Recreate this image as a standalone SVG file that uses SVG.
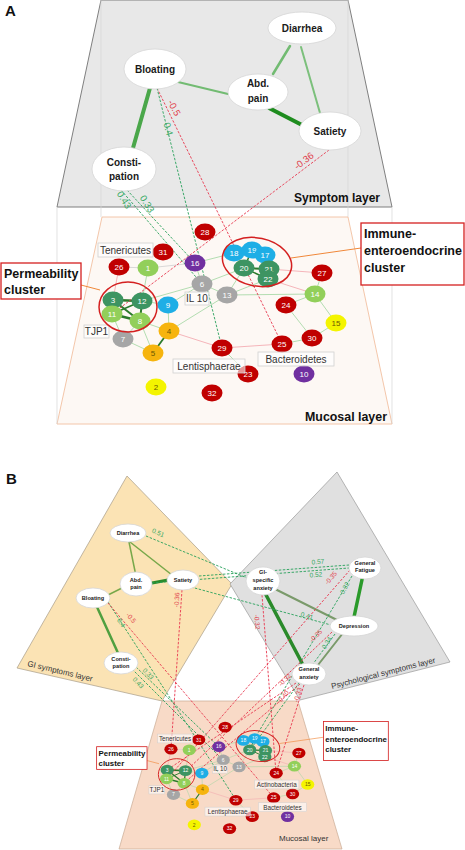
<svg xmlns="http://www.w3.org/2000/svg" width="465" height="850" viewBox="0 0 465 850">
<style>
text{font-family:"Liberation Sans",Arial,sans-serif}
.r{fill:#c00000}.dg{fill:#3d9462}.lg{fill:#92cf5a}.bl{fill:#1eaee6}.gy{fill:#a6a6a6}.pu{fill:#7030a0}.or{fill:#f6b40e}.ye{fill:#f4f400}
.nt{font-size:8px;fill:#fff;text-anchor:middle}
.nd{fill:#6b5800}
.eg{stroke:#9fd69f;stroke-width:0.8;fill:none}
.ep{stroke:#f2a3ab;stroke-width:0.8;fill:none}
.ey{stroke:#cfcfcf;stroke-width:0.8;fill:none}
.ek{stroke:#2b7a2b;fill:none}
.dr{stroke:#e8384f;stroke-width:0.9;stroke-dasharray:2.5 1.5;fill:none}
.dgr{stroke:#27a05a;stroke-width:0.9;stroke-dasharray:2.5 1.5;fill:none}
.lr{fill:#e0404a;text-anchor:middle}
.lgr{fill:#35a862;text-anchor:middle}
.la{font-size:9.5px}
.lbb{font-size:6.5px}
.sn{fill:#fff;stroke:#d6d6d6;stroke-width:0.8}
.st{font-weight:bold;fill:#1a1a1a;text-anchor:middle}
.sa{font-size:10px}
.sb{font-size:5.6px}
.lb{fill:#fff;fill-opacity:0.6;stroke:#d0d0d0;stroke-width:0.8}
.lt{font-size:10px;fill:#333;text-anchor:middle}
.cl{fill:none;stroke:#d42020;stroke-width:1.5}
.bx{fill:#fff;stroke:#d42020;stroke-width:1.3}
.bt{font-size:12.5px;font-weight:bold;fill:#111}
.ol{stroke:#f0883a;stroke-width:1}
.fl{stroke:#d6d6d6;stroke-width:0.7}
.se{fill:none;stroke-linecap:round}
</style>

<!-- ============ PANEL A ============ -->
<text x="5" y="16" font-size="15" font-weight="bold" fill="#111">A</text>
<g id="A-layers">
  <polygon id="symptom-layer" points="101,0 348,0 392,207 57,207" fill="#e8e8e8" stroke="#7f7f7f" stroke-width="1"/>
  <line class="fl" x1="101" y1="0" x2="101" y2="217"/>
  <line class="fl" x1="348" y1="0" x2="348" y2="217"/>
  <polygon id="mucosal-layer-A" points="102,217 348,217 392,424 57,424" fill="#fdf8f4" stroke="#f2bfa0" stroke-width="0.9"/>
  <line class="fl" x1="57" y1="207" x2="57" y2="424"/>
  <line class="fl" x1="392" y1="207" x2="392" y2="424"/>
  <text x="294" y="202" font-size="12" font-weight="bold" fill="#111">Symptom layer</text>
  <text x="305" y="421" font-size="12.4" font-weight="bold" fill="#111">Mucosal layer</text>
</g>

<g id="connectors-A">
  <!-- symptom edges -->
  <line class="se" x1="150" y1="88" x2="133" y2="148" stroke="#4aa74a" stroke-width="4"/>
  <line class="se" x1="178" y1="82" x2="228" y2="94" stroke="#72bb72" stroke-width="2"/>
  <line class="se" x1="290" y1="46" x2="273" y2="74" stroke="#72bb72" stroke-width="2.5"/>
  <line class="se" x1="301" y1="47" x2="320" y2="113" stroke="#7cc07c" stroke-width="2"/>
  <line class="se" x1="269" y1="108" x2="302" y2="125" stroke="#1e8c1e" stroke-width="4"/>
  <!-- mucosal edges -->
  <g id="muc-edges-A">
    <path class="eg" d="M148 268L142 301M195 263L234 253M195 263L202 284M202 284L227 295M202 284L244 268M202 284L142 301M202 284L168 305M227 295L244 268M227 295L268 279M227 295L315 294M227 295L169 331M168 305L142 301M168 305L169 331M169 331L140 321M123 339L112 314M123 339L140 321M153 353L140 321M153 353L123 339M222 348L248 374M315 294L322 273M315 294L286 305M315 294L336 323M336 323L312 338M286 305L312 338M282 344L312 338M234 253L252 250M252 250L265 255M265 255L269 269M234 253L244 268"/>
    <path class="ep" d="M169 331L222 348M222 348L282 344M269 269L322 273M268 279L315 294M119 267L113 300"/>
    <path class="ey" d="M148 268L195 263M119 267L148 268"/>
    <line class="ek" x1="113" y1="300" x2="142" y2="301" stroke-width="2.5"/>
    <line class="ek" x1="113" y1="300" x2="140" y2="321" stroke-width="2"/>
    <line class="ek" x1="112" y1="314" x2="140" y2="321" stroke-width="2.5"/>
    <line class="ek" x1="142" y1="301" x2="140" y2="321" stroke-width="2"/>
    <line class="ek" x1="112" y1="314" x2="142" y2="301" stroke-width="1.5"/>
    <line class="ek" x1="113" y1="300" x2="112" y2="314" stroke-width="1.2"/>
    <line class="ek" x1="244" y1="268" x2="252" y2="250" stroke-width="1.5"/>
    <line class="ek" x1="244" y1="268" x2="269" y2="269" stroke-width="2"/>
    <line class="ek" x1="244" y1="268" x2="268" y2="279" stroke-width="1.5"/>
    <line class="ek" x1="269" y1="269" x2="268" y2="279" stroke-width="1"/>
    <line class="ek" x1="169" y1="331" x2="153" y2="353" stroke-width="1.8"/>
  </g>
  <!-- cross-layer dashed -->
  <line class="dr" x1="157" y1="88" x2="282" y2="344"/>
  <line class="dgr" x1="157" y1="88" x2="222" y2="348"/>
  <line class="dr" x1="329" y1="150" x2="112" y2="314"/>
  <line class="dgr" x1="121" y1="190" x2="202" y2="284"/>
  <line class="dgr" x1="127" y1="190" x2="195" y2="263"/>
  <text class="lr la" transform="translate(174 108) rotate(63)" y="3">-0.5</text>
  <text class="lgr la" transform="translate(168 129) rotate(75)" y="3">0.4</text>
  <text class="lr la" transform="translate(304 161) rotate(-37)" y="3">-0.36</text>
  <text class="lgr la" transform="translate(124 200) rotate(58)" y="3">0.43</text>
  <text class="lgr la" transform="translate(147 204) rotate(58)" y="3">0.33</text>
  <line class="ol" x1="81" y1="285" x2="100" y2="290"/>
  <line class="ol" x1="291" y1="258" x2="361" y2="248"/>
</g>

<g id="nodes-A">
  <g id="a-diarrhea"><ellipse class="sn" cx="302" cy="28" rx="34" ry="16"/><text class="st sa" x="302" y="32">Diarrhea</text></g>
  <g id="a-bloating"><ellipse class="sn" cx="155" cy="69" rx="31" ry="20"/><text class="st sa" x="155" y="73">Bloating</text></g>
  <g id="a-abdpain"><ellipse class="sn" cx="258" cy="92" rx="30" ry="18"/><text class="st sa" x="258" y="87">Abd.</text><text class="st sa" x="258" y="102">pain</text></g>
  <g id="a-satiety"><ellipse class="sn" cx="330" cy="131" rx="31" ry="19"/><text class="st sa" x="330" y="135">Satiety</text></g>
  <g id="a-constipation"><ellipse class="sn" cx="124" cy="169" rx="32" ry="22"/><text class="st sa" x="124" y="166">Consti-</text><text class="st sa" x="124" y="180">pation</text></g>

  <g id="muc-A">
    <g id="a28"><ellipse cx="205" cy="232" rx="10.5" ry="8.5" class="r"/><text x="205" y="234.8" class="nt">28</text></g>
    <g id="a31"><ellipse cx="163" cy="252" rx="10.5" ry="8.5" class="r"/><text x="163" y="254.8" class="nt">31</text></g>
    <g id="a26"><ellipse cx="119" cy="267" rx="10.5" ry="8.5" class="r"/><text x="119" y="269.8" class="nt">26</text></g>
    <g id="a1"><ellipse cx="148" cy="268" rx="10.5" ry="8.5" class="lg"/><text x="148" y="270.8" class="nt">1</text></g>
    <g id="a16"><ellipse cx="195" cy="263" rx="10.5" ry="8.5" class="pu"/><text x="195" y="265.8" class="nt">16</text></g>
    <g id="a18"><ellipse cx="234" cy="253" rx="10.5" ry="8.5" class="bl"/><text x="234" y="255.8" class="nt">18</text></g>
    <g id="a19"><ellipse cx="252" cy="250" rx="10.5" ry="8.5" class="bl"/><text x="252" y="252.8" class="nt">19</text></g>
    <g id="a17"><ellipse cx="265" cy="255" rx="10.5" ry="8.5" class="bl"/><text x="265" y="257.8" class="nt">17</text></g>
    <g id="a20"><ellipse cx="244" cy="268" rx="10.5" ry="8.5" class="dg"/><text x="244" y="270.8" class="nt">20</text></g>
    <g id="a21"><ellipse cx="269" cy="269" rx="10.5" ry="8.5" class="dg"/><text x="269" y="271.8" class="nt">21</text></g>
    <g id="a22"><ellipse cx="268" cy="279" rx="10.5" ry="8.5" class="dg"/><text x="268" y="281.8" class="nt">22</text></g>
    <g id="a6"><ellipse cx="202" cy="284" rx="10.5" ry="8.5" class="gy"/><text x="202" y="286.8" class="nt">6</text></g>
    <g id="a13"><ellipse cx="227" cy="295" rx="10.5" ry="8.5" class="gy"/><text x="227" y="297.8" class="nt">13</text></g>
    <g id="a27"><ellipse cx="322" cy="273" rx="10.5" ry="8.5" class="r"/><text x="322" y="275.8" class="nt">27</text></g>
    <g id="a14"><ellipse cx="315" cy="294" rx="10.5" ry="8.5" class="lg"/><text x="315" y="296.8" class="nt">14</text></g>
    <g id="a3"><ellipse cx="113" cy="300" rx="10.5" ry="8.5" class="dg"/><text x="113" y="302.8" class="nt">3</text></g>
    <g id="a12"><ellipse cx="142" cy="301" rx="10.5" ry="8.5" class="dg"/><text x="142" y="303.8" class="nt">12</text></g>
    <g id="a9"><ellipse cx="168" cy="305" rx="10.5" ry="8.5" class="bl"/><text x="168" y="307.8" class="nt">9</text></g>
    <g id="a24"><ellipse cx="286" cy="305" rx="10.5" ry="8.5" class="r"/><text x="286" y="307.8" class="nt">24</text></g>
    <g id="a11"><ellipse cx="112" cy="314" rx="10.5" ry="8.5" class="lg"/><text x="112" y="316.8" class="nt">11</text></g>
    <g id="a8"><ellipse cx="140" cy="321" rx="10.5" ry="8.5" class="lg"/><text x="140" y="323.8" class="nt">8</text></g>
    <g id="a15"><ellipse cx="336" cy="323" rx="10.5" ry="8.5" class="ye"/><text x="336" y="325.8" class="nt nd">15</text></g>
    <g id="a4"><ellipse cx="169" cy="331" rx="10.5" ry="8.5" class="or"/><text x="169" y="333.8" class="nt nd">4</text></g>
    <g id="a7"><ellipse cx="123" cy="339" rx="10.5" ry="8.5" class="gy"/><text x="123" y="341.8" class="nt">7</text></g>
    <g id="a30"><ellipse cx="312" cy="338" rx="10.5" ry="8.5" class="r"/><text x="312" y="340.8" class="nt">30</text></g>
    <g id="a25"><ellipse cx="282" cy="344" rx="10.5" ry="8.5" class="r"/><text x="282" y="346.8" class="nt">25</text></g>
    <g id="a29"><ellipse cx="222" cy="348" rx="10.5" ry="8.5" class="r"/><text x="222" y="350.8" class="nt">29</text></g>
    <g id="a5"><ellipse cx="153" cy="353" rx="10.5" ry="8.5" class="or"/><text x="153" y="355.8" class="nt nd">5</text></g>
    <g id="a23"><ellipse cx="248" cy="374" rx="10.5" ry="8.5" class="r"/><text x="248" y="376.8" class="nt">23</text></g>
    <g id="a10"><ellipse cx="304" cy="374" rx="10.5" ry="8.5" class="pu"/><text x="304" y="376.8" class="nt">10</text></g>
    <g id="a2"><ellipse cx="156" cy="387" rx="10.5" ry="8.5" class="ye"/><text x="156" y="389.8" class="nt nd">2</text></g>
    <g id="a32"><ellipse cx="212" cy="393" rx="10.5" ry="8.5" class="r"/><text x="212" y="395.8" class="nt">32</text></g>
    <g id="a-labels">
      <rect class="lb" x="98" y="243" width="55" height="14"/><text class="lt" x="125.5" y="254">Tenericutes</text>
      <rect class="lb" x="185" y="292" width="24" height="13"/><text class="lt" x="197" y="302">IL 10</text>
      <rect class="lb" x="84" y="325" width="25" height="13"/><text class="lt" x="96.5" y="335">TJP1</text>
      <rect class="lb" x="173" y="359" width="72" height="14"/><text class="lt" x="209" y="370">Lentisphaerae</text>
      <rect class="lb" x="258" y="352" width="76" height="14"/><text class="lt" x="296" y="363">Bacteroidetes</text>
    </g>
    <ellipse class="cl" cx="128" cy="307" rx="29" ry="25"/>
    <ellipse class="cl" cx="257" cy="262" rx="35" ry="24" transform="rotate(12 257 262)"/>
    <g id="a-perm-box"><rect class="bx" x="1" y="263" width="80" height="36"/><text class="bt" x="4" y="277.5">Permeability</text><text class="bt" x="4" y="294">cluster</text></g>
    <g id="a-immune-box"><rect class="bx" x="361" y="223" width="103" height="62"/><text class="bt" x="364" y="238">Immune-</text><text class="bt" x="364" y="255">enteroendocrine</text><text class="bt" x="364" y="272">cluster</text></g>
  </g>
</g>

<!-- ============ PANEL B ============ -->
<text x="6" y="484" font-size="15" font-weight="bold" fill="#111">B</text>
<g id="B-layers">
  <polygon id="gi-layer" points="127,476 232,584 162,701 17,668" fill="#fbe3b4" stroke="#a89c88" stroke-width="0.7"/>
  <polygon id="psych-layer" points="337,472 450,662 300,700 230,584" fill="#e0e0e0" stroke="#9a9a9a" stroke-width="0.7"/>
  <polygon id="mucosal-layer-B" points="162,701 298,701 342,849 119,849" fill="#f8dac7" stroke="#c8aa94" stroke-width="0.7"/>
  <text transform="translate(27 666) rotate(13.5)" font-size="8" fill="#333">GI symptoms layer</text>
  <text transform="translate(332 689) rotate(-14.3)" font-size="8" fill="#333">Psychological symptoms layer</text>
  <text x="279" y="841" font-size="8" fill="#333">Mucosal layer</text>
</g>

<g id="connectors-B">
  <g transform="translate(96 581) scale(0.63)">
    <path class="eg" d="M148 268L142 301M195 263L234 253M195 263L202 284M202 284L227 295M202 284L244 268M202 284L142 301M202 284L168 305M227 295L244 268M227 295L268 279M227 295L315 294M227 295L169 331M168 305L142 301M168 305L169 331M169 331L140 321M123 339L112 314M123 339L140 321M153 353L140 321M153 353L123 339M222 348L248 374M315 294L322 273M315 294L286 305M315 294L336 323M336 323L312 338M286 305L312 338M282 344L312 338M234 253L252 250M252 250L265 255M265 255L269 269M234 253L244 268"/>
    <path class="ep" d="M169 331L222 348M222 348L282 344M269 269L322 273M268 279L315 294M119 267L113 300"/>
    <path class="ey" d="M148 268L195 263M119 267L148 268"/>
    <line class="ek" x1="113" y1="300" x2="142" y2="301" stroke-width="2.5"/>
    <line class="ek" x1="113" y1="300" x2="140" y2="321" stroke-width="2"/>
    <line class="ek" x1="112" y1="314" x2="140" y2="321" stroke-width="2.5"/>
    <line class="ek" x1="142" y1="301" x2="140" y2="321" stroke-width="2"/>
    <line class="ek" x1="112" y1="314" x2="142" y2="301" stroke-width="1.5"/>
    <line class="ek" x1="244" y1="268" x2="252" y2="250" stroke-width="1.5"/>
    <line class="ek" x1="244" y1="268" x2="269" y2="269" stroke-width="2"/>
    <line class="ek" x1="244" y1="268" x2="268" y2="279" stroke-width="1.5"/>
    <line class="ek" x1="169" y1="331" x2="153" y2="353" stroke-width="1.8"/>
    <line class="ol" x1="81" y1="285" x2="100" y2="290"/>
    <line class="ol" x1="291" y1="258" x2="361" y2="248"/>
  </g>
  <!-- symptom edges B -->
  <line class="se" x1="129" y1="542" x2="136" y2="576" stroke="#78a84a" stroke-width="1.5"/>
  <line class="se" x1="130" y1="542" x2="172" y2="575" stroke="#78a84a" stroke-width="1.5"/>
  <line class="se" x1="152" y1="583" x2="168" y2="580" stroke="#2a8a2a" stroke-width="3"/>
  <line class="se" x1="108" y1="595" x2="122" y2="588" stroke="#78a84a" stroke-width="1.5"/>
  <line class="se" x1="97" y1="607" x2="118" y2="653" stroke="#50a040" stroke-width="2.5"/>
  <line class="se" x1="265" y1="593" x2="302" y2="663" stroke="#2a8a2a" stroke-width="3.5"/>
  <line class="se" x1="273" y1="588" x2="337" y2="620" stroke="#7a9a6a" stroke-width="2"/>
  <line class="se" x1="363" y1="575" x2="354" y2="617" stroke="#2a9a2a" stroke-width="3.5"/>
  <line class="se" x1="343" y1="633" x2="318" y2="665" stroke="#7a9a6a" stroke-width="2"/>
  <!-- dashed B -->
  <g stroke-width="0.8">
    <line class="dgr" x1="146" y1="536" x2="247" y2="578"/>
    <line class="dgr" x1="199" y1="576" x2="349" y2="565"/>
    <line class="dgr" x1="152" y1="583" x2="349" y2="568"/>
    <line class="dgr" x1="191" y1="587" x2="331" y2="625"/>
    <line class="dgr" x1="108" y1="602" x2="236" y2="800"/>
    <line class="dgr" x1="132" y1="669" x2="223" y2="760"/>
    <line class="dgr" x1="136" y1="667" x2="219" y2="747"/>
    <line class="dgr" x1="352" y1="576" x2="255" y2="738"/>
    <line class="dgr" x1="335" y1="634" x2="250" y2="750"/>
    <line class="dr" x1="182" y1="590" x2="171" y2="749"/>
    <line class="dr" x1="108" y1="603" x2="274" y2="798"/>
    <line class="dr" x1="350" y1="570" x2="167" y2="779"/>
    <line class="dr" x1="262" y1="595" x2="276" y2="773"/>
    <line class="dr" x1="332" y1="632" x2="186" y2="771"/>
    <line class="dr" x1="296" y1="683" x2="167" y2="770"/>
    <line class="dr" x1="300" y1="684" x2="184" y2="783"/>
    <line class="dr" x1="304" y1="685" x2="276" y2="773"/>
  </g>
  <text class="lgr lbb" transform="translate(158 533) rotate(23)" y="2">0.51</text>
  <text class="lgr lbb" transform="translate(318 562) rotate(-4)" y="2">0.57</text>
  <text class="lgr lbb" transform="translate(316 575) rotate(-5)" y="2">0.52</text>
  <text class="lgr lbb" transform="translate(307 616) rotate(15)" y="2">0.41</text>
  <text class="lgr lbb" transform="translate(121 623) rotate(57)" y="2">0.4</text>
  <text class="lgr lbb" transform="translate(138 683) rotate(46)" y="2">0.43</text>
  <text class="lgr lbb" transform="translate(148 674) rotate(46)" y="2">0.33</text>
  <text class="lgr lbb" transform="translate(345 588) rotate(-62)" y="2">0.32</text>
  <text class="lgr lbb" transform="translate(327 643) rotate(-58)" y="2">0.34</text>
  <text class="lr lbb" transform="translate(177 600) rotate(-86)" y="2">-0.36</text>
  <text class="lr lbb" transform="translate(131 618) rotate(50)" y="2">-0.5</text>
  <text class="lr lbb" transform="translate(331 578) rotate(-50)" y="2">-0.35</text>
  <text class="lr lbb" transform="translate(257 622) rotate(85)" y="2">-0.32</text>
  <text class="lr lbb" transform="translate(316 636) rotate(-45)" y="2">-0.35</text>
  <text class="lr lbb" transform="translate(285 680) rotate(-45)" y="2">-0.32</text>
  <text class="lr lbb" transform="translate(283 697) rotate(-50)" y="2">-0.40</text>
  <text class="lr lbb" transform="translate(298 695) rotate(-75)" y="2">-0.33</text>
</g>

<g id="nodes-B">
  <g id="b-diarrhea"><ellipse class="sn" cx="128" cy="533" rx="18" ry="9"/><text class="st sb" x="128" y="535">Diarrhea</text></g>
  <g id="b-abdpain"><ellipse class="sn" cx="136" cy="584" rx="16" ry="12"/><text class="st sb" x="136" y="582">Abd.</text><text class="st sb" x="136" y="589">pain</text></g>
  <g id="b-satiety"><ellipse class="sn" cx="183" cy="580" rx="16" ry="10"/><text class="st sb" x="183" y="582">Satiety</text></g>
  <g id="b-bloating"><ellipse class="sn" cx="93" cy="598" rx="17" ry="10"/><text class="st sb" x="93" y="600">Bloating</text></g>
  <g id="b-constipation"><ellipse class="sn" cx="121" cy="663" rx="17" ry="11"/><text class="st sb" x="121" y="661">Consti-</text><text class="st sb" x="121" y="668">pation</text></g>
  <g id="b-gianxiety"><ellipse class="sn" cx="263" cy="581" rx="17" ry="14"/><text class="st sb" x="263" y="574">GI-</text><text class="st sb" x="263" y="582">specific</text><text class="st sb" x="263" y="590">anxiety</text></g>
  <g id="b-genfatigue"><ellipse class="sn" cx="365" cy="568" rx="16" ry="11"/><text class="st sb" x="365" y="565">General</text><text class="st sb" x="365" y="572">Fatigue</text></g>
  <g id="b-depression"><ellipse class="sn" cx="354" cy="626" rx="24" ry="10"/><text class="st sb" x="354" y="628">Depression</text></g>
  <g id="b-genanxiety"><ellipse class="sn" cx="309" cy="674" rx="17" ry="11"/><text class="st sb" x="309" y="671">General</text><text class="st sb" x="309" y="679">anxiety</text></g>

  <g id="muc-B" transform="translate(96 581) scale(0.63)">
    <g id="b28"><ellipse cx="205" cy="232" rx="10.5" ry="8.5" class="r"/><text x="205" y="234.8" class="nt">28</text></g>
    <g id="b31"><ellipse cx="163" cy="252" rx="10.5" ry="8.5" class="r"/><text x="163" y="254.8" class="nt">31</text></g>
    <g id="b26"><ellipse cx="119" cy="267" rx="10.5" ry="8.5" class="r"/><text x="119" y="269.8" class="nt">26</text></g>
    <g id="b1"><ellipse cx="148" cy="268" rx="10.5" ry="8.5" class="lg"/><text x="148" y="270.8" class="nt">1</text></g>
    <g id="b16"><ellipse cx="195" cy="263" rx="10.5" ry="8.5" class="pu"/><text x="195" y="265.8" class="nt">16</text></g>
    <g id="b18"><ellipse cx="234" cy="253" rx="10.5" ry="8.5" class="bl"/><text x="234" y="255.8" class="nt">18</text></g>
    <g id="b19"><ellipse cx="252" cy="250" rx="10.5" ry="8.5" class="bl"/><text x="252" y="252.8" class="nt">19</text></g>
    <g id="b17"><ellipse cx="265" cy="255" rx="10.5" ry="8.5" class="bl"/><text x="265" y="257.8" class="nt">17</text></g>
    <g id="b20"><ellipse cx="244" cy="268" rx="10.5" ry="8.5" class="dg"/><text x="244" y="270.8" class="nt">20</text></g>
    <g id="b21"><ellipse cx="269" cy="269" rx="10.5" ry="8.5" class="dg"/><text x="269" y="271.8" class="nt">21</text></g>
    <g id="b22"><ellipse cx="268" cy="279" rx="10.5" ry="8.5" class="dg"/><text x="268" y="281.8" class="nt">22</text></g>
    <g id="b6"><ellipse cx="202" cy="284" rx="10.5" ry="8.5" class="gy"/><text x="202" y="286.8" class="nt">6</text></g>
    <g id="b13"><ellipse cx="227" cy="295" rx="10.5" ry="8.5" class="gy"/><text x="227" y="297.8" class="nt">13</text></g>
    <g id="b27"><ellipse cx="322" cy="273" rx="10.5" ry="8.5" class="r"/><text x="322" y="275.8" class="nt">27</text></g>
    <g id="b14"><ellipse cx="315" cy="294" rx="10.5" ry="8.5" class="lg"/><text x="315" y="296.8" class="nt">14</text></g>
    <g id="b3"><ellipse cx="113" cy="300" rx="10.5" ry="8.5" class="dg"/><text x="113" y="302.8" class="nt">3</text></g>
    <g id="b12"><ellipse cx="142" cy="301" rx="10.5" ry="8.5" class="dg"/><text x="142" y="303.8" class="nt">12</text></g>
    <g id="b9"><ellipse cx="168" cy="305" rx="10.5" ry="8.5" class="bl"/><text x="168" y="307.8" class="nt">9</text></g>
    <g id="b24"><ellipse cx="286" cy="305" rx="10.5" ry="8.5" class="r"/><text x="286" y="307.8" class="nt">24</text></g>
    <g id="b11"><ellipse cx="112" cy="314" rx="10.5" ry="8.5" class="lg"/><text x="112" y="316.8" class="nt">11</text></g>
    <g id="b8"><ellipse cx="140" cy="321" rx="10.5" ry="8.5" class="lg"/><text x="140" y="323.8" class="nt">8</text></g>
    <g id="b15"><ellipse cx="336" cy="323" rx="10.5" ry="8.5" class="ye"/><text x="336" y="325.8" class="nt nd">15</text></g>
    <g id="b4"><ellipse cx="169" cy="331" rx="10.5" ry="8.5" class="or"/><text x="169" y="333.8" class="nt nd">4</text></g>
    <g id="b7"><ellipse cx="123" cy="339" rx="10.5" ry="8.5" class="gy"/><text x="123" y="341.8" class="nt">7</text></g>
    <g id="b30"><ellipse cx="312" cy="338" rx="10.5" ry="8.5" class="r"/><text x="312" y="340.8" class="nt">30</text></g>
    <g id="b25"><ellipse cx="282" cy="344" rx="10.5" ry="8.5" class="r"/><text x="282" y="346.8" class="nt">25</text></g>
    <g id="b29"><ellipse cx="222" cy="348" rx="10.5" ry="8.5" class="r"/><text x="222" y="350.8" class="nt">29</text></g>
    <g id="b5"><ellipse cx="153" cy="353" rx="10.5" ry="8.5" class="or"/><text x="153" y="355.8" class="nt nd">5</text></g>
    <g id="b23"><ellipse cx="248" cy="374" rx="10.5" ry="8.5" class="r"/><text x="248" y="376.8" class="nt">23</text></g>
    <g id="b10"><ellipse cx="304" cy="374" rx="10.5" ry="8.5" class="pu"/><text x="304" y="376.8" class="nt">10</text></g>
    <g id="b2"><ellipse cx="156" cy="387" rx="10.5" ry="8.5" class="ye"/><text x="156" y="389.8" class="nt nd">2</text></g>
    <g id="b32"><ellipse cx="212" cy="393" rx="10.5" ry="8.5" class="r"/><text x="212" y="395.8" class="nt">32</text></g>
    <g id="b-labels">
      <rect class="lb" x="98" y="243" width="55" height="14"/><text class="lt" x="125.5" y="254">Tenericutes</text>
      <rect class="lb" x="185" y="292" width="24" height="13"/><text class="lt" x="197" y="302">IL 10</text>
      <rect class="lb" x="84" y="325" width="25" height="13"/><text class="lt" x="96.5" y="335">TJP1</text>
      <rect class="lb" x="173" y="359" width="72" height="14"/><text class="lt" x="209" y="370">Lentisphaerae</text>
      <rect class="lb" x="258" y="352" width="76" height="14"/><text class="lt" x="296" y="363">Bacteroidetes</text>
      <rect class="lb" x="252" y="316" width="70" height="14"/><text class="lt" x="287" y="327">Actinobacteria</text>
    </g>
    <ellipse class="cl" cx="128" cy="307" rx="29" ry="25"/>
    <ellipse class="cl" cx="257" cy="262" rx="35" ry="24" transform="rotate(12 257 262)"/>
    <g id="b-perm-box"><rect class="bx" x="1" y="263" width="80" height="36"/><text class="bt" x="4" y="277.5">Permeability</text><text class="bt" x="4" y="294">cluster</text></g>
    <g id="b-immune-box"><rect class="bx" x="361" y="223" width="103" height="62"/><text class="bt" x="364" y="238">Immune-</text><text class="bt" x="364" y="255">enteroendocrine</text><text class="bt" x="364" y="272">cluster</text></g>
  </g>
</g>
</svg>
